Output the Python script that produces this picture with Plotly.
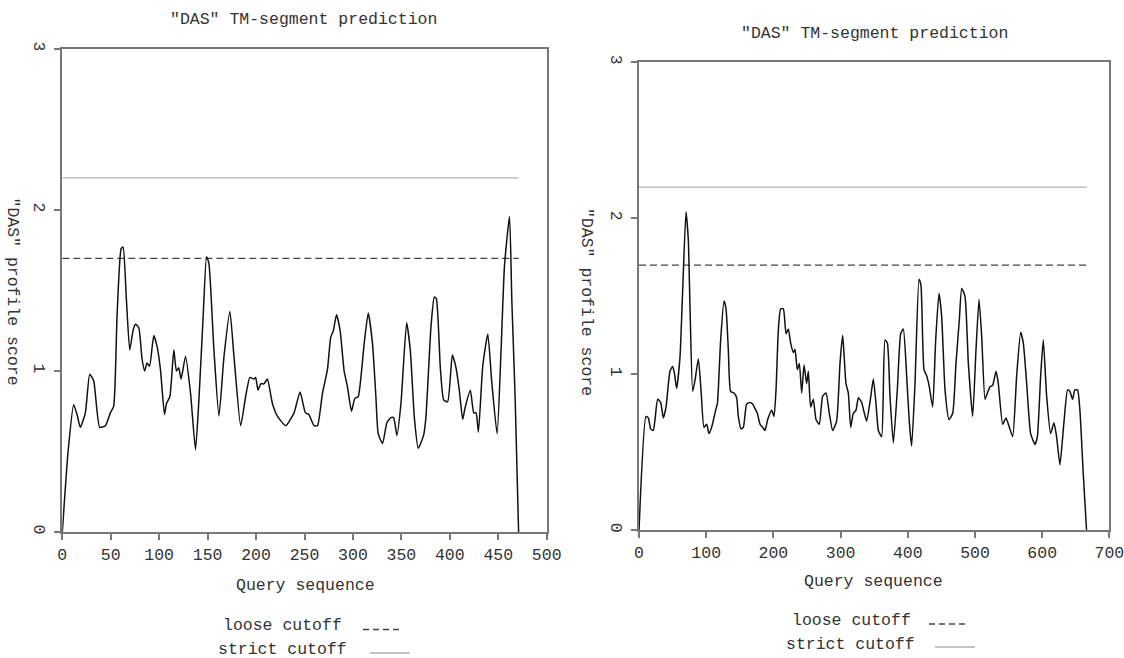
import plotly.graph_objects as go

# ---------------- data ----------------
left_pos = [0, 6, 11.7, 15.2, 18.6, 23.8, 28.3, 32.4, 38.6, 44.5, 49.6, 53, 56.5, 60.7, 62.7, 66.2,
            69.6, 73, 75.5, 78.9, 82.4, 85.1, 87.4, 90.1, 94.4, 97.9, 101.3, 105.5, 107.6, 111, 115.1,
            117.8, 120.2, 122.6, 127.2, 132.4, 137.5, 141, 145.4, 148.9, 151.3, 156.5, 161.7, 166.9,
            173, 177.2, 184.1, 189.2, 193.7, 197.8, 199.6, 202, 204.8, 208.2, 211.7, 216.8, 222,
            230.6, 239.2, 245.4, 251, 254.5, 259.9, 263.4, 268.5, 273.7, 277.1, 279.8, 283, 286.8,
            290.9, 294.4, 298.5, 302, 305.4, 308.9, 311.6, 315.8, 320.2, 323.7, 326.1, 330.6, 335.1,
            339.2, 342, 345.4, 349.6, 355.4, 359.2, 363.4, 367.4, 372.9, 375.3, 380.6, 384, 386.1,
            390.2, 393.7, 397.8, 402.6, 406.4, 409.8, 413.3, 415.7, 421.2, 424.7, 427.1, 429.5, 434,
            439.2, 443.3, 448.8, 452.9, 456.4, 461.6, 464, 467.5, 471]
left_score = [0, 0.5, 0.79, 0.73, 0.65, 0.74, 0.98, 0.94, 0.65, 0.66, 0.74, 0.78, 1.34, 1.76, 1.77,
              1.44, 1.13, 1.25, 1.29, 1.27, 1.07, 1.0, 1.05, 1.03, 1.22, 1.15, 1.01, 0.73, 0.80, 0.84,
              1.13, 1.0, 1.02, 0.95, 1.09, 0.86, 0.51, 0.82, 1.34, 1.71, 1.67, 1.13, 0.72, 1.09, 1.37,
              1.09, 0.66, 0.84, 0.96, 0.95, 0.96, 0.88, 0.92, 0.92, 0.95, 0.80, 0.72, 0.66, 0.74, 0.87,
              0.74, 0.73, 0.66, 0.66, 0.86, 1.01, 1.21, 1.25, 1.35, 1.25, 1.0, 0.90, 0.75, 0.83, 0.84,
              1.0, 1.17, 1.36, 1.17, 0.84, 0.61, 0.55, 0.68, 0.71, 0.71, 0.6, 0.80, 1.30, 1.13, 0.71,
              0.52, 0.60, 0.71, 1.28, 1.46, 1.45, 1.02, 0.82, 0.81, 1.10, 1.02, 0.88, 0.70, 0.77, 0.88,
              0.74, 0.74, 0.62, 1.03, 1.23, 0.93, 0.61, 1.13, 1.65, 1.96, 1.44, 0.82, 0]

right_pos = [0, 10.4, 13.9, 17.4, 21.3, 23.8, 27.8, 32.2, 36.2, 40.2, 46.1, 50.1, 52.6, 56, 61, 65,
             69.9, 73.4, 75.9, 79.9, 83.3, 88.3, 92.3, 96.7, 100.7, 104.2, 108.1, 114.6, 116.6, 121.5,
             126.5, 129.5, 132.9, 136.4, 141.4, 145.3, 147.8, 151.8, 155.3, 160.2, 165.2, 169.1,
             172.6, 176.1, 180.1, 184, 187.5, 191.5, 197.4, 200.9, 203.9, 207.3, 210.8, 214.8, 218.8,
             222.2, 225.7, 229.7, 232.1, 235.6, 238.6, 242.1, 245.6, 249.5, 252, 255.4, 259.4, 263.4,
             268.3, 273.3, 278.3, 283.2, 288.2, 294.1, 299.1, 303.1, 308, 311.5, 315, 319, 322.9,
             326.4, 331.3, 334.8, 338.8, 344.7, 348.7, 352.7, 356.2, 361.1, 366.1, 369.6, 373.5,
             378.5, 384.4, 389.4, 393.3, 398.3, 402.3, 405.7, 410.7, 416.7, 419.6, 424.1, 428.1, 432,
             437, 441.5, 446.4, 450.4, 455.4, 461.3, 466.8, 471.7, 476.7, 480.2, 485.1, 490.1, 496.5,
             501.5, 506, 510, 514.9, 518.4, 522.3, 526.3, 531.3, 534.7, 541.2, 546.1, 551.1, 556.1,
             562, 568, 571.9, 576.9, 582.8, 589.3, 592.8, 597.7, 601.6, 606.6, 612.5, 617.5, 621.4,
             626.4, 632.3, 637.8, 641.2, 645.2, 648.6, 652.6, 656.1, 661, 666]
right_score = [0, 0.73, 0.72, 0.65, 0.64, 0.71, 0.84, 0.82, 0.72, 0.79, 1.02, 1.05, 1.01, 0.91, 1.11,
               1.54, 2.04, 1.86, 1.43, 0.89, 0.96, 1.10, 0.90, 0.66, 0.68, 0.62, 0.66, 0.78, 0.81,
               1.22, 1.47, 1.42, 1.16, 0.89, 0.88, 0.85, 0.73, 0.65, 0.66, 0.81, 0.82, 0.81, 0.78,
               0.75, 0.68, 0.66, 0.64, 0.71, 0.77, 0.73, 0.90, 1.28, 1.42, 1.42, 1.26, 1.29, 1.20,
               1.14, 1.16, 1.03, 1.07, 0.88, 1.06, 0.94, 1.02, 0.79, 0.84, 0.71, 0.68, 0.86, 0.88,
               0.75, 0.64, 0.70, 1.07, 1.25, 0.94, 0.88, 0.66, 0.75, 0.77, 0.85, 0.82, 0.76, 0.70,
               0.85, 0.97, 0.81, 0.64, 0.60, 1.22, 1.20, 0.86, 0.56, 0.90, 1.26, 1.29, 0.99, 0.69,
               0.54, 0.94, 1.61, 1.57, 1.03, 0.99, 0.92, 0.79, 1.22, 1.52, 1.37, 0.90, 0.71, 0.75,
               1.07, 1.35, 1.55, 1.50, 1.07, 0.73, 1.16, 1.48, 1.24, 0.84, 0.88, 0.92, 0.93, 1.02,
               0.94, 0.68, 0.72, 0.66, 0.60, 0.99, 1.27, 1.20, 0.94, 0.62, 0.55, 0.60, 0.99, 1.22,
               0.86, 0.62, 0.69, 0.60, 0.42, 0.69, 0.90, 0.89, 0.84, 0.90, 0.90, 0.77, 0.37, 0]

left_length = 471
right_length = 666
loose_cutoff = 1.7
strict_cutoff = 2.2

title_text = '"DAS" TM-segment prediction'
x_title = "Query sequence"
y_title = '"DAS" profile score'
legend_labels = ["loose cutoff", "strict cutoff"]

# ---------------- style ----------------
FONT = "Liberation Mono, Courier New, monospace"
TXT = "#333333"
AX = "#777777"
FS = 16.5
W, H = 1124, 658


def px(x):
    return x / W


def py(y):
    return 1 - y / H


fig = go.Figure()

panels = [
    dict(pos=left_pos, score=left_score, length=left_length, xa="x", ya="y"),
    dict(pos=right_pos, score=right_score, length=right_length, xa="x2", ya="y2"),
]
for p in panels:
    fig.add_trace(go.Scatter(x=[0, p["length"]], y=[strict_cutoff, strict_cutoff], mode="lines",
                             line=dict(color="#b0b0b0", width=1.3), xaxis=p["xa"], yaxis=p["ya"],
                             showlegend=False, hoverinfo="skip"))
    fig.add_trace(go.Scatter(x=[0, p["length"]], y=[loose_cutoff, loose_cutoff], mode="lines",
                             line=dict(color="#444444", width=1.3, dash="7px,4px"),
                             xaxis=p["xa"], yaxis=p["ya"], showlegend=False, hoverinfo="skip"))
    fig.add_trace(go.Scatter(x=p["pos"], y=p["score"], mode="lines",
                             line=dict(color="#111111", width=1.5, shape="spline", smoothing=0.5),
                             xaxis=p["xa"], yaxis=p["ya"], showlegend=False))

axis_common = dict(showline=True, mirror=True, linecolor=AX, linewidth=2, ticks="outside",
                   ticklen=6, tickwidth=1.5, tickcolor=AX, showgrid=False, zeroline=False,
                   automargin=False, ticklabeloverflow="allow",
                   tickfont=dict(family=FONT, size=FS, color=TXT))

fig.update_layout(
    width=W, height=H, autosize=False,
    margin=dict(l=0, r=0, t=0, b=0, pad=0),
    paper_bgcolor="white", plot_bgcolor="white",
    showlegend=False,
    xaxis=dict(domain=[px(62.3), px(546.7)], range=[0, 500], dtick=50, anchor="y", **axis_common),
    yaxis=dict(domain=[py(532), py(49)], range=[0, 3], dtick=1, tickangle=90, anchor="x",
               **axis_common),
    xaxis2=dict(domain=[px(639), px(1109.4)], range=[0, 700], dtick=100, anchor="y2",
                **axis_common),
    yaxis2=dict(domain=[py(530.3), py(62.3)], range=[0, 3], dtick=1, tickangle=90, anchor="x2",
                **axis_common),
)

font = dict(family=FONT, size=FS, color=TXT)
ann = []
# titles
ann.append(dict(text=title_text, x=px(303), y=py(20), xref="paper", yref="paper",
                showarrow=False, font=font, xanchor="center", yanchor="middle"))
ann.append(dict(text=title_text, x=px(874), y=py(34), xref="paper", yref="paper",
                showarrow=False, font=font, xanchor="center", yanchor="middle"))
# x titles
ann.append(dict(text=x_title, x=px(305), y=py(585), xref="paper", yref="paper",
                showarrow=False, font=font, xanchor="center", yanchor="middle"))
ann.append(dict(text=x_title, x=px(873), y=py(581), xref="paper", yref="paper",
                showarrow=False, font=font, xanchor="center", yanchor="middle"))
# y titles
ann.append(dict(text=y_title, x=px(12.5), y=py(291), xref="paper", yref="paper",
                showarrow=False, font=font, textangle=90, xanchor="center", yanchor="middle"))
ann.append(dict(text=y_title, x=px(587), y=py(302), xref="paper", yref="paper",
                showarrow=False, font=font, textangle=90, xanchor="center", yanchor="middle"))
# legend texts
ann.append(dict(text=legend_labels[0], x=px(344), y=py(625), xref="paper", yref="paper",
                showarrow=False, font=font, xanchor="right", yanchor="middle"))
ann.append(dict(text=legend_labels[1], x=px(349), y=py(649), xref="paper", yref="paper",
                showarrow=False, font=font, xanchor="right", yanchor="middle"))
ann.append(dict(text=legend_labels[0], x=px(913), y=py(620), xref="paper", yref="paper",
                showarrow=False, font=font, xanchor="right", yanchor="middle"))
ann.append(dict(text=legend_labels[1], x=px(917), y=py(644), xref="paper", yref="paper",
                showarrow=False, font=font, xanchor="right", yanchor="middle"))
fig.update_layout(annotations=ann)

shapes = [
    dict(type="line", xref="paper", yref="paper", x0=px(363), x1=px(403), y0=py(629.5), y1=py(629.5),
         line=dict(color="#444444", width=1.3, dash="6px,4px")),
    dict(type="line", xref="paper", yref="paper", x0=px(370), x1=px(410), y0=py(653), y1=py(653),
         line=dict(color="#b0b0b0", width=1.3)),
    dict(type="line", xref="paper", yref="paper", x0=px(929), x1=px(969), y0=py(624), y1=py(624),
         line=dict(color="#444444", width=1.3, dash="6px,4px")),
    dict(type="line", xref="paper", yref="paper", x0=px(935), x1=px(975), y0=py(647), y1=py(647),
         line=dict(color="#b0b0b0", width=1.3)),
]
fig.update_layout(shapes=shapes)

fig.write_html(
    "out.html",
    config={"displayModeBar": False},
    post_script="document.body.style.margin='0';document.body.style.overflow='hidden';",
)
